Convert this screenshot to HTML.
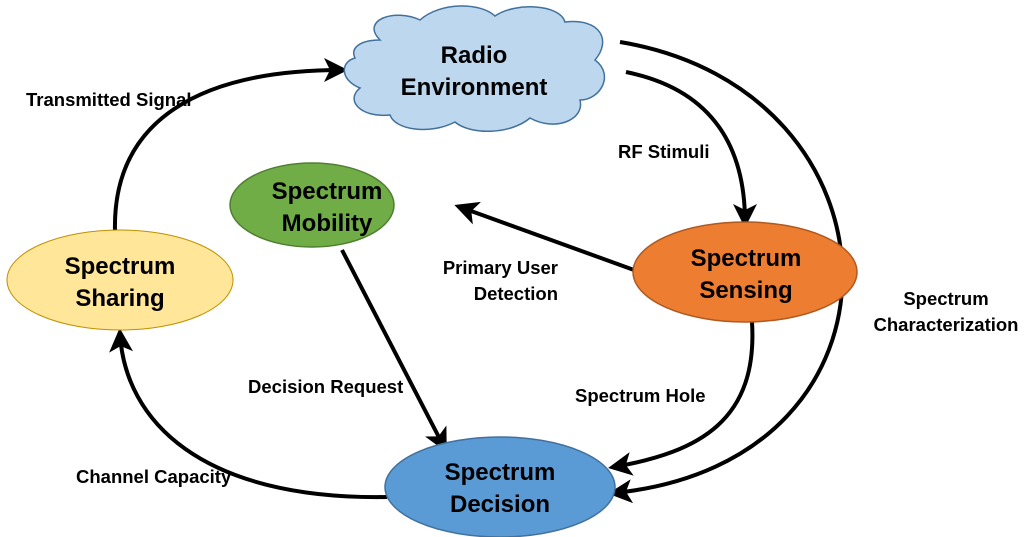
<!DOCTYPE html>
<html><head><meta charset="utf-8"><style>
html,body{margin:0;padding:0;background:#fff;}
svg{display:block;font-family:"Liberation Sans",Arial,sans-serif;font-weight:bold;}
</style></head><body>
<svg width="1024" height="537" viewBox="0 0 1024 537" xmlns="http://www.w3.org/2000/svg">
<defs>
<marker id="a" markerWidth="6" markerHeight="6" refX="4.5" refY="3" orient="auto" markerUnits="strokeWidth">
<path d="M0,0 L6,3 L0,6 L1.5,3 Z" fill="#000"/></marker>
</defs>
<g fill="none" stroke="#000" stroke-width="4" marker-end="url(#a)">
<path d="M115,232 C112,120 200,70 342,70"/>
<path d="M626,72 C715,90 745,150 745,222"/>
<path d="M620,42 C910,90 925,462 614,493"/>
<path d="M634,270 L460,207"/>
<path d="M342,250 L444,447"/>
<path d="M752,322 C758,420 700,452 614,467"/>
<path d="M387,497 C200,500 125,420 120,334"/>
</g>
<path d="M380,40 C360,20 395,8 420,20 C440,2 480,2 495,16 C515,2 560,4 565,22 C600,18 612,40 595,60 C615,75 600,100 580,100 C585,120 555,132 530,118 C510,135 470,135 455,122 C430,135 395,130 390,115 C360,118 345,100 360,88 C340,80 340,62 355,58 C350,48 360,40 380,40 Z" fill="#BDD7EE" stroke="#41719C" stroke-width="1.5"/>
<ellipse cx="312" cy="205" rx="82" ry="42" fill="#70AD47" stroke="#507E32" stroke-width="1.5"/>
<ellipse cx="120" cy="280" rx="113" ry="50" fill="#FFE699" stroke="#BF9000" stroke-width="1"/>
<ellipse cx="745" cy="272" rx="112" ry="50" fill="#ED7D31" stroke="#AE5A21" stroke-width="1.5"/>
<ellipse cx="500" cy="487" rx="115" ry="50" fill="#5B9BD5" stroke="#41719C" stroke-width="1.5"/>
<g font-size="24" text-anchor="middle" fill="#000">
<text x="474" y="63">Radio</text><text x="474" y="95">Environment</text>
<text x="327" y="199">Spectrum</text><text x="327" y="231">Mobility</text>
<text x="120" y="274">Spectrum</text><text x="120" y="306">Sharing</text>
<text x="746" y="266">Spectrum</text><text x="746" y="298">Sensing</text>
<text x="500" y="480">Spectrum</text><text x="500" y="512">Decision</text>
</g>
<g font-size="18.5" fill="#000">
<text x="26" y="106">Transmitted Signal</text>
<text x="618" y="158">RF Stimuli</text>
<text x="558" y="274" text-anchor="end">Primary User</text>
<text x="558" y="300" text-anchor="end">Detection</text>
<text x="946" y="305" text-anchor="middle">Spectrum</text>
<text x="946" y="331" text-anchor="middle">Characterization</text>
<text x="248" y="393">Decision Request</text>
<text x="575" y="402">Spectrum Hole</text>
<text x="76" y="483">Channel Capacity</text>
</g>
</svg>
</body></html>
